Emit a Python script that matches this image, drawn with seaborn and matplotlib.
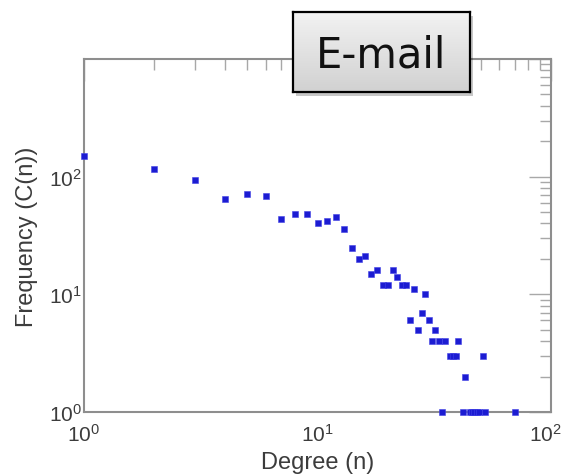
import numpy as np
import pandas as pd
import matplotlib
matplotlib.use("Agg")
import matplotlib.pyplot as plt
import matplotlib.transforms as mtransforms
import seaborn as sns
from matplotlib.ticker import FixedLocator, LogLocator, NullFormatter

# Degree distribution of the e-mail network
degree = [1, 2, 3, 4, 5, 6, 7, 8, 9, 10, 11, 12, 13, 14, 15, 16, 17, 18, 19, 20,
          21, 22, 23, 24, 25, 26, 27, 28, 29, 30, 31, 32, 33, 34, 35, 37, 38, 39,
          40, 42, 43, 45, 46, 47, 48, 49, 51, 52, 70]
frequency = [151, 116, 93, 65, 71, 68, 44, 48, 48, 40, 42, 45, 36, 25, 20, 21, 15, 16, 12, 12,
             16, 14, 12, 12, 6, 11, 5, 7, 10, 6, 4, 5, 4, 1, 4, 3, 3, 3,
             4, 1, 2, 1, 1, 1, 1, 1, 3, 1, 1]

panel_title = "E-mail"
x_label = "Degree (n)"
y_label = "Frequency (C(n))"
x_ticks = [1, 10, 100]
x_tick_labels = [r"$10^{0}$", r"$10^{1}$", r"$10^{2}$"]
y_ticks = [1, 10, 100, 1000]
y_tick_labels = [r"$10^{0}$", r"$10^{1}$", r"$10^{2}$", ""]

sns.set_theme(style="white")
plt.rcParams["font.family"] = ["Liberation Sans", "DejaVu Sans"]
plt.rcParams["mathtext.fontset"] = "custom"
plt.rcParams["mathtext.rm"] = "Liberation Sans"
plt.rcParams["mathtext.it"] = "Liberation Sans"
plt.rcParams["mathtext.default"] = "regular"

W, H = 563, 477
fig = plt.figure(figsize=(W / 100, H / 100), dpi=100)
fig.patch.set_facecolor("white")

# plot area in pixel terms: left 84, right 551, top 60, bottom 413
ax = fig.add_axes([84 / W, 1 - 413 / H, (551 - 84) / W, (413 - 60) / H])

df = pd.DataFrame({"degree": degree, "frequency": frequency})
sns.scatterplot(data=df, x="degree", y="frequency", ax=ax, marker="s", s=13,
                color="#1c1cd2", edgecolor="#4040e6", linewidth=0.4, clip_on=False, zorder=5)

ax.set_xscale("log")
ax.set_yscale("log")
ax.set_xlim(1, 100)
ax.set_ylim(1, 1000)

ax.xaxis.set_major_locator(FixedLocator(x_ticks))
ax.set_xticklabels(x_tick_labels)
ax.yaxis.set_major_locator(FixedLocator(y_ticks))
ax.set_yticklabels(y_tick_labels)
ax.xaxis.set_minor_locator(LogLocator(base=10, subs=np.arange(2, 10), numticks=20))
ax.yaxis.set_minor_locator(LogLocator(base=10, subs=np.arange(2, 10), numticks=20))
ax.xaxis.set_minor_formatter(NullFormatter())
ax.yaxis.set_minor_formatter(NullFormatter())

ax.tick_params(which="both", direction="in", top=True, right=True,
               color="#a8a8a8", labelcolor="#3c3c3c", labelsize=15)
ax.tick_params(which="major", length=16, width=1.0)
ax.tick_params(which="minor", length=8, width=1.0)
ax.tick_params(axis="x", which="major", pad=8)
ax.tick_params(axis="y", which="major", pad=1.5)

# keep the right-most degree label inside the canvas
last = ax.get_xticklabels()[-1]
last.set_transform(last.get_transform() + mtransforms.ScaledTranslation(-6 / 100, 0, fig.dpi_scale_trans))

for sp in ax.spines.values():
    sp.set_color("#8e8e8e")
    sp.set_linewidth(1.5)

ax.set_xlabel(x_label, fontsize=17, color="#3c3c3c", labelpad=4)
ax.set_ylabel(y_label, fontsize=17, color="#3c3c3c", labelpad=8)
ax.set_facecolor("white")

# Title box with drop shadow and soft grey gradient
bx0, by0, bx1, by1 = 293, 13, 470, 93
shadow = fig.add_axes([(bx0 + 3) / W, 1 - (by1 + 4) / H, (bx1 - bx0) / W, (by1 - by0) / H])
shadow.set_facecolor((0, 0, 0, 0.22))
shadow.set_xticks([]); shadow.set_yticks([])
for sp in shadow.spines.values():
    sp.set_visible(False)

box = fig.add_axes([bx0 / W, 1 - by1 / H, (bx1 - bx0) / W, (by1 - by0) / H])
grad = np.linspace(0.95, 0.82, 64).reshape(-1, 1)
box.imshow(np.dstack([grad, grad, grad]), aspect="auto", extent=[0, 1, 0, 1], origin="upper")
box.set_xlim(0, 1); box.set_ylim(0, 1)
box.set_xticks([]); box.set_yticks([])
for sp in box.spines.values():
    sp.set_color("black")
    sp.set_linewidth(1.6)
box.text(0.5, 0.47, panel_title, ha="center", va="center", fontsize=30,
         family=["DejaVu Sans"], color="#111111")

fig.savefig("out.png", dpi=100, facecolor="white")
